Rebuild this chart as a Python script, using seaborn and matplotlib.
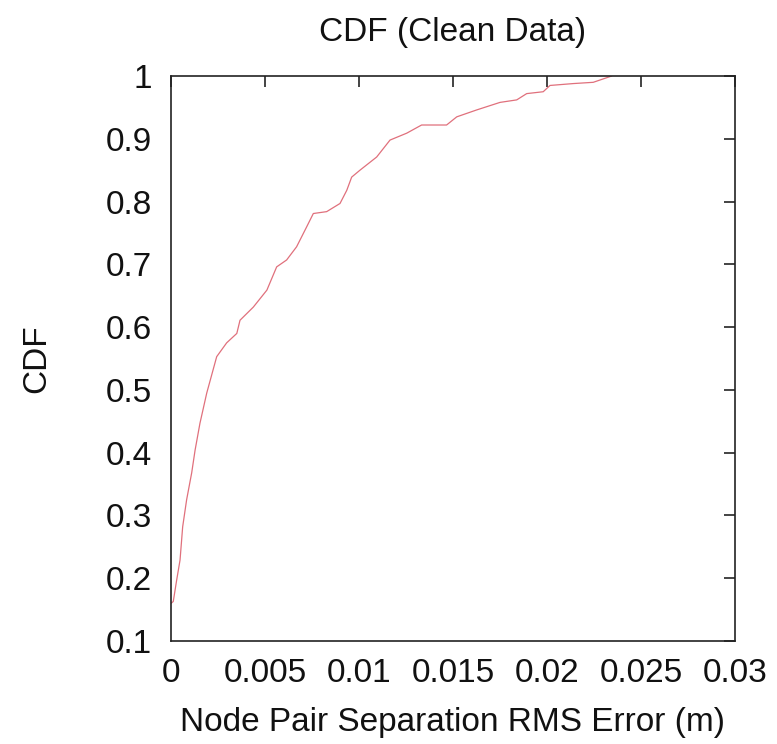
import matplotlib
matplotlib.use("Agg")
import matplotlib.pyplot as plt
import seaborn as sns
import pandas as pd

# RMS error (m) and cumulative fraction for node-pair separation
rms_error = [0.0, 0.00012, 0.0003, 0.00048, 0.00062, 0.00083, 0.0011, 0.00128,
             0.00154, 0.0019, 0.00243, 0.00296, 0.0035, 0.00367, 0.00438,
             0.0051, 0.00562, 0.00615, 0.00668, 0.00722, 0.00757,
             0.00828, 0.00899, 0.00935, 0.00961, 0.01005, 0.01094, 0.01165,
             0.01254, 0.01333, 0.01466, 0.0152, 0.01626, 0.0175, 0.01839,
             0.01892, 0.0198, 0.02016, 0.0214, 0.02246, 0.02344]
cdf = [0.16, 0.163, 0.197, 0.229, 0.282, 0.325, 0.368, 0.404,
       0.447, 0.495, 0.553, 0.575, 0.59, 0.611, 0.632,
       0.659, 0.696, 0.707, 0.728, 0.76, 0.781,
       0.784, 0.797, 0.818, 0.839, 0.85, 0.871, 0.898,
       0.909, 0.922, 0.922, 0.935, 0.946, 0.958, 0.962,
       0.972, 0.975, 0.985, 0.988, 0.99, 1.0]

x_ticks = [0, 0.005, 0.01, 0.015, 0.02, 0.025, 0.03]
x_tick_labels = ["0", "0.005", "0.01", "0.015", "0.02", "0.025", "0.03"]
y_ticks = [0.1, 0.2, 0.3, 0.4, 0.5, 0.6, 0.7, 0.8, 0.9, 1.0]
y_tick_labels = ["0.1", "0.2", "0.3", "0.4", "0.5", "0.6", "0.7", "0.8", "0.9", "1"]

sns.set_style("white")
plt.rcParams["font.family"] = ["Liberation Sans", "DejaVu Sans"]

df = pd.DataFrame({"err": rms_error, "cdf": cdf})

fig = plt.figure(figsize=(7.77, 7.44), dpi=100)
ax = fig.add_axes([0.2201, 0.1384, 0.9459 - 0.2201, 0.8978 - 0.1384])

sns.lineplot(data=df, x="err", y="cdf", ax=ax, color="#e0707c",
             linewidth=0.9, sort=False, estimator=None)

ax.set_xlim(0, 0.03)
ax.set_ylim(0.1, 1.0)
ax.set_xticks(x_ticks)
ax.set_xticklabels(x_tick_labels)
ax.set_yticks(y_ticks)
ax.set_yticklabels(y_tick_labels)

ax.tick_params(direction="in", length=8, width=1.1, labelsize=24,
               top=True, right=True, colors="#111111")
ax.tick_params(axis="x", pad=12)
ax.tick_params(axis="y", pad=14)
for s in ax.spines.values():
    s.set_visible(True)
    s.set_linewidth(1.2)
    s.set_color("#222222")

ax.set_title("CDF (Clean Data)", fontsize=24, pad=25, color="#111111")
ax.set_xlabel("Node Pair Separation RMS Error (m)", fontsize=24,
              labelpad=13, color="#111111")
ax.set_ylabel("CDF", fontsize=24, labelpad=38, color="#111111")

fig.savefig("out.png", dpi=100)
